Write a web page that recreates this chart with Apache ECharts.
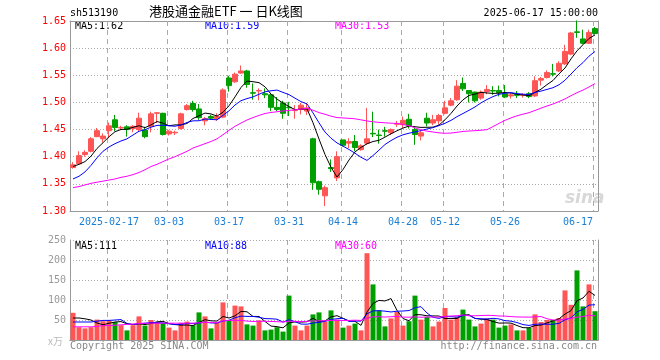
<!DOCTYPE html>
<html><head><meta charset="utf-8">
<script src="https://cdn.jsdelivr.net/npm/echarts@6/dist/echarts.min.js"></script>
<style>html,body{margin:0;padding:0;background:#fff}#c{width:660px;height:360px}</style>
</head><body><div id="c"></div>
<script>
// ---- data ----
const dates = ['2025-02-07','2025-02-10','2025-02-11','2025-02-12','2025-02-13','2025-02-14',
'2025-02-17','2025-02-18','2025-02-19','2025-02-20','2025-02-21','2025-02-24','2025-02-25','2025-02-26','2025-02-27','2025-02-28',
'2025-03-03','2025-03-04','2025-03-05','2025-03-06','2025-03-07','2025-03-10','2025-03-11','2025-03-12','2025-03-13','2025-03-14',
'2025-03-17','2025-03-18','2025-03-19','2025-03-20','2025-03-21','2025-03-24','2025-03-25','2025-03-26','2025-03-27','2025-03-28',
'2025-03-31','2025-04-01','2025-04-02','2025-04-03','2025-04-07','2025-04-08','2025-04-09','2025-04-10','2025-04-11',
'2025-04-14','2025-04-15','2025-04-16','2025-04-17','2025-04-18','2025-04-21','2025-04-22','2025-04-23','2025-04-24','2025-04-25',
'2025-04-28','2025-04-29','2025-04-30','2025-05-06','2025-05-07','2025-05-08','2025-05-09',
'2025-05-12','2025-05-13','2025-05-14','2025-05-15','2025-05-16','2025-05-19','2025-05-20','2025-05-21','2025-05-22','2025-05-23',
'2025-05-26','2025-05-27','2025-05-28','2025-05-29','2025-05-30','2025-06-03','2025-06-04','2025-06-05','2025-06-06',
'2025-06-09','2025-06-10','2025-06-11','2025-06-12','2025-06-13','2025-06-16','2025-06-17'];

const opens = [1.380,1.387,1.404,1.410,1.437,1.433,1.448,1.468,1.453,1.455,
1.452,1.450,1.449,1.456,1.480,1.480,1.442,1.444,1.452,1.487,
1.498,1.488,1.466,1.474,1.470,1.473,1.545,1.538,1.554,1.558,
1.518,1.521,1.516,1.514,1.491,1.499,1.491,1.485,1.487,1.484,
1.433,1.354,1.328,1.380,1.361,1.431,1.425,1.428,1.413,1.425,
1.443,1.440,1.448,1.444,1.460,1.459,1.469,1.450,1.438,1.471,
1.462,1.466,1.480,1.495,1.505,1.535,1.522,1.519,1.508,1.520,
1.522,1.522,1.516,1.512,1.515,1.513,1.516,1.512,1.541,1.546,
1.553,1.558,1.571,1.589,1.630,1.617,1.609,1.636];
const closes = [1.385,1.402,1.408,1.433,1.448,1.438,1.457,1.454,1.454,1.450,
1.456,1.471,1.437,1.479,1.481,1.441,1.447,1.445,1.479,1.494,
1.487,1.472,1.470,1.471,1.474,1.523,1.531,1.552,1.558,1.533,
1.517,1.522,1.514,1.491,1.487,1.480,1.490,1.486,1.495,1.490,
1.352,1.340,1.343,1.378,1.400,1.421,1.428,1.417,1.420,1.433,
1.442,1.439,1.447,1.450,1.461,1.467,1.457,1.441,1.444,1.462,
1.468,1.476,1.490,1.503,1.530,1.525,1.516,1.503,1.519,1.524,
1.521,1.518,1.510,1.514,1.513,1.514,1.511,1.540,1.544,1.555,
1.552,1.572,1.594,1.628,1.629,1.609,1.629,1.627];
const lows = [1.378,1.385,1.400,1.408,1.436,1.426,1.434,1.447,1.449,1.437,
1.445,1.447,1.434,1.445,1.462,1.439,1.439,1.440,1.450,1.485,
1.483,1.468,1.458,1.468,1.466,1.471,1.520,1.536,1.553,1.527,
1.505,1.504,1.508,1.484,1.484,1.470,1.475,1.470,1.478,1.477,
1.339,1.330,1.309,1.372,1.355,1.419,1.416,1.410,1.411,1.422,
1.436,1.424,1.437,1.440,1.455,1.453,1.452,1.422,1.430,1.456,
1.458,1.459,1.478,1.493,1.503,1.521,1.500,1.500,1.505,1.515,
1.514,1.511,1.508,1.507,1.508,1.509,1.508,1.510,1.531,1.544,
1.548,1.556,1.569,1.587,1.619,1.607,1.608,1.625];
const highs = [1.390,1.410,1.412,1.436,1.453,1.443,1.463,1.477,1.457,1.458,
1.458,1.481,1.455,1.483,1.482,1.481,1.449,1.448,1.481,1.497,
1.503,1.497,1.473,1.477,1.480,1.526,1.549,1.555,1.568,1.560,
1.535,1.526,1.526,1.517,1.510,1.503,1.501,1.495,1.499,1.499,
1.435,1.356,1.347,1.395,1.410,1.431,1.434,1.440,1.423,1.490,
1.483,1.450,1.455,1.452,1.466,1.474,1.479,1.456,1.448,1.481,
1.477,1.479,1.503,1.508,1.541,1.546,1.522,1.520,1.522,1.532,
1.530,1.531,1.532,1.517,1.521,1.517,1.519,1.548,1.547,1.559,
1.571,1.576,1.606,1.630,1.651,1.634,1.634,1.639];
// volume (万)
const volumes = [68,32,29,32,51,47,50,45,37,24,
37,59,36,50,45,43,31,24,43,46,
37,69,59,29,43,94,50,86,84,39,
36,49,24,26,32,21,111,36,24,36,
64,69,46,74,51,31,36,41,24,217,
139,74,34,54,70,36,47,111,51,58,
34,46,80,51,58,76,51,34,41,54,
51,31,36,39,24,24,30,64,45,50,
50,55,124,88,174,84,139,72];

// moving-average values before enough history exists
const ma5Early = [1.382,1.386,1.391,1.401];
const ma10Early = [1.359,1.364,1.372,1.384,1.398,1.410,1.418,1.424,1.429];
const ma30Early = [1.343,1.345,1.348,1.351,1.353,1.355,1.357,1.359,1.362,1.364,1.367,1.371,1.376,1.382,1.386,1.391,1.396,1.400,1.405,1.410,1.416,1.420,1.424,1.428,1.433,1.4405,1.4485,1.456,1.462];
const volMa5Early = [55,55,53,50];
const volMa10Early = [45,45,45,45,47,49,49,50,51];
const volMa30Early = [33,33,33,33,34,36,36,37,38,39,40,41,42,42,42,42,42,42,42,42,42,43,44,44,44,48,49,49,49];

const priceTicks = [1.30,1.35,1.40,1.45,1.50,1.55,1.60,1.65];
const volTicks = [0,50,100,150,200,250];
const labelDates = ['2025-02-17','2025-03-03','2025-03-17','2025-03-31','2025-04-14','2025-04-28','2025-05-12','2025-05-26','2025-06-17'];

// ---- derived ----
function movingAvg(vals, n, early){
  return vals.map((v,i)=>{
    if(i < n-1) return early[i];
    let s = 0; for(let k=i-n+1;k<=i;k++) s += vals[k];
    return s/n;
  });
}
const ma5 = movingAvg(closes,5,ma5Early);
const ma10 = movingAvg(closes,10,ma10Early);
const ma30 = movingAvg(closes,30,ma30Early);
const vma5 = movingAvg(volumes,5,volMa5Early);
const vma10 = movingAvg(volumes,10,volMa10Early);
const vma30 = movingAvg(volumes,30,volMa30Early);
const last = dates.length-1;

const RED = '#ff5555', GREEN = '#009f00';
const MONO = 'DejaVu Sans Mono';
const candleData = dates.map((d,i)=>[opens[i],closes[i],lows[i],highs[i]]);
const volData = volumes.map((v,i)=>({value:v, itemStyle:{color: closes[i]>=opens[i]?RED:GREEN}}));
const labelIdx = labelDates.map(d=>dates.indexOf(d));
const labelInterval = (i)=>labelIdx.indexOf(i)>=0;
const BORDER = '#999';

// dashed date guide lines: x from the category axis, full height of the panel
function guideItem(params, api){
  const cs = params.coordSys;
  const band = api.size([1, 0])[0];
  const x = Math.round(api.coord([api.value(0), api.value(1)])[0] - band*0.3) + 0.5;
  return {type:'line', silent:true,
    shape:{x1:x, y1:cs.y, x2:x, y2:cs.y+cs.height},
    style:{stroke:'#aaa', lineWidth:1, lineDash:[5,4], fill:null}};
}

const chart = echarts.init(document.getElementById('c'), null, {renderer:'canvas'});
const lineS = (name, data, color, xi, yi)=>({
  name, type:'line', data, xAxisIndex:xi, yAxisIndex:yi, showSymbol:false, symbol:'none',
  lineStyle:{color, width:1}, itemStyle:{color}, z:3, silent:true
});
const edgeX = (g)=>({type:'category', data:dates, gridIndex:g, position:'top',
  axisLine:{show:true, lineStyle:{color:BORDER}}, axisTick:{show:false}, axisLabel:{show:false}, splitLine:{show:false}});
const edgeY = (g)=>({type:'value', gridIndex:g, position:'right', min:0, max:1,
  axisLine:{show:true, lineStyle:{color:BORDER}}, axisTick:{show:false}, axisLabel:{show:false}, splitLine:{show:false}});

chart.setOption({
  animation:false,
  grid:[
    {left:70, right:62, top:21, height:190},
    {left:70, right:62, top:240, height:100}
  ],
  xAxis:[
    {type:'category', data:dates, gridIndex:0, boundaryGap:true,
     axisLine:{show:true, lineStyle:{color:BORDER}}, axisTick:{show:false}, splitLine:{show:false},
     axisLabel:{show:true, interval:labelInterval, margin:6,
       color:'#1a7fd4', fontFamily:MONO, fontSize:10,
       formatter:(v,i)=>{
         if(i===labelIdx[0]) return v;
         if(i===last) return '{e|'+v.slice(5)+'}';
         return v.slice(5);
       },
       rich:{e:{color:'#1a7fd4', fontFamily:MONO, fontSize:10, padding:[0,34,0,0]}}
     }},
    {type:'category', data:dates, gridIndex:1, boundaryGap:true,
     axisLine:{show:true, lineStyle:{color:BORDER}}, axisTick:{show:false}, axisLabel:{show:false}, splitLine:{show:false}},
    edgeX(0), edgeX(1)
  ],
  yAxis:[
    {type:'value', gridIndex:0, min:priceTicks[0], max:priceTicks[priceTicks.length-1], interval:0.05, scale:false,
     axisLine:{show:true, lineStyle:{color:BORDER}}, axisTick:{show:false},
     axisLabel:{color:'#ff0000', fontFamily:MONO, fontSize:10, margin:4, formatter:(v)=>v.toFixed(2)},
     splitLine:{show:true, lineStyle:{color:'#aaa', type:[1,2], width:1}}},
    {type:'value', gridIndex:1, min:volTicks[0], max:volTicks[volTicks.length-1], interval:50,
     axisLine:{show:true, lineStyle:{color:BORDER}}, axisTick:{show:false},
     axisLabel:{color:'#999', fontFamily:MONO, fontSize:10, margin:4, formatter:(v)=>v===0?'':String(v)},
     splitLine:{show:true, lineStyle:{color:'#aaa', type:[1,2], width:1}}},
    edgeY(0), edgeY(1)
  ],
  series:[
    {name:'guideK', type:'custom', xAxisIndex:0, yAxisIndex:0, z:1, silent:true, clip:false,
     encode:{x:0, y:1}, data:labelIdx.map(i=>[i, priceTicks[0]]), renderItem:guideItem},
    {name:'guideV', type:'custom', xAxisIndex:1, yAxisIndex:1, z:1, silent:true, clip:false,
     encode:{x:0, y:1}, data:labelIdx.map(i=>[i, volTicks[0]]), renderItem:guideItem},
    {name:'K', type:'candlestick', data:candleData, xAxisIndex:0, yAxisIndex:0, barWidth:5, z:2,
     itemStyle:{color:RED, color0:GREEN, borderColor:RED, borderColor0:GREEN, borderWidth:1}, silent:true},
    lineS('MA5', ma5, '#000000', 0, 0),
    lineS('MA10', ma10, '#0000ff', 0, 0),
    lineS('MA30', ma30, '#ff00ff', 0, 0),
    {name:'VOL', type:'bar', data:volData, xAxisIndex:1, yAxisIndex:1, barWidth:5, z:2, silent:true},
    lineS('VMA5', vma5, '#000000', 1, 1),
    lineS('VMA10', vma10, '#0000ff', 1, 1),
    lineS('VMA30', vma30, '#ff00ff', 1, 1)
  ],
  graphic:[
    {type:'text', left:70, top:8, style:{text:'sh513190', font:'10px "'+MONO+'"', fill:'#000'}},
    {type:'text', left:149, top:5, style:{text:'港股通金融ETF 一 日K线图', font:'13px "Noto Sans CJK SC"', fill:'#000'}},
    {type:'text', right:62, top:8, style:{text:'2025-06-17 15:00:00', font:'10px "'+MONO+'"', fill:'#000'}},
    {type:'text', left:75, top:21, style:{text:'MA5:'+ma5[last].toFixed(2), font:'10px "'+MONO+'"', fill:'#000'}},
    {type:'text', left:205, top:21, style:{text:'MA10:'+ma10[last].toFixed(2), font:'10px "'+MONO+'"', fill:'#0000ff'}},
    {type:'text', left:335, top:21, style:{text:'MA30:'+ma30[last].toFixed(2), font:'10px "'+MONO+'"', fill:'#ff00ff'}},
    {type:'text', left:75, top:241, style:{text:'MA5:'+Math.round(vma5[last]), font:'10px "'+MONO+'"', fill:'#000'}},
    {type:'text', left:205, top:241, style:{text:'MA10:'+Math.round(vma10[last]), font:'10px "'+MONO+'"', fill:'#0000ff'}},
    {type:'text', left:335, top:241, style:{text:'MA30:'+Math.round(vma30[last]), font:'10px "'+MONO+'"', fill:'#ff00ff'}},
    {type:'text', left:48, top:336, style:{text:'x万', font:'10px "Noto Sans CJK SC"', fill:'#bbb'}},
    {type:'text', left:70, top:341, style:{text:'Copyright 2025 SINA.COM', font:'10px "'+MONO+'"', fill:'#888'}},
    {type:'text', right:63, top:341, style:{text:'http://finance.sina.com.cn', font:'10px "'+MONO+'"', fill:'#888'}},
    {type:'text', left:565, top:190, style:{text:'sina', font:'italic bold 17px "DejaVu Sans"', fill:'#d8d8d8'}}
  ]
});
</script></body></html>
